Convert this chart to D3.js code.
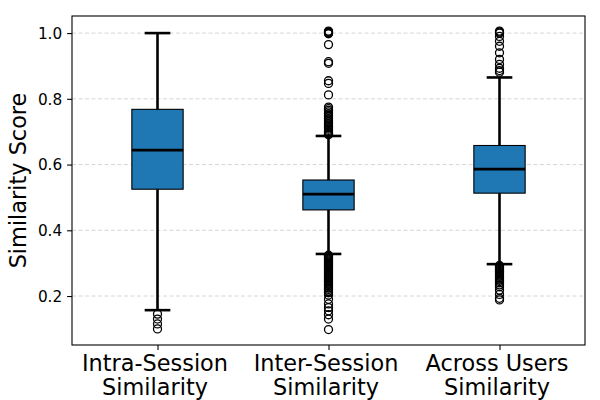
<!DOCTYPE html>
<html>
<head>
<meta charset="utf-8">
<script src="https://cdn.jsdelivr.net/npm/d3@7"></script>
<style>
  html, body { margin: 0; padding: 0; background: #fff; }
  svg { display: block; font-family: "DejaVu Sans", sans-serif; }
</style>
</head>
<body>
<svg id="chart" width="600" height="400"></svg>
<script>
// ---- data ----
const categories = ["Intra-Session\nSimilarity", "Inter-Session\nSimilarity", "Across Users\nSimilarity"];
const q1 = [0.525, 0.462, 0.513];
const median = [0.644, 0.510, 0.586];
const q3 = [0.768, 0.553, 0.658];
const whiskerLow = [0.157, 0.328, 0.297];
const whiskerHigh = [1.0, 0.687, 0.865];
const outliersIntra = [0.145, 0.13, 0.115, 0.10];
const outliersInter = [
  1.006, 1.004, 1.002, 1.0, 0.998, 0.965, 0.913, 0.908, 0.855, 0.847, 0.812,
  0.775, 0.77, 0.765, 0.76, 0.755, 0.75, 0.745, 0.74, 0.735, 0.73, 0.725, 0.72,
  0.716, 0.712, 0.708, 0.704, 0.70, 0.697, 0.694, 0.691,
  0.324, 0.321, 0.318, 0.315, 0.312, 0.309, 0.306, 0.303, 0.30, 0.297, 0.294,
  0.291, 0.288, 0.285, 0.282, 0.279, 0.276, 0.273, 0.27, 0.267, 0.264, 0.261,
  0.258, 0.255, 0.252, 0.249, 0.246, 0.243, 0.24, 0.236, 0.232, 0.228, 0.224,
  0.22, 0.215, 0.21, 0.203, 0.19, 0.176, 0.165, 0.155, 0.143, 0.13, 0.098
];
const outliersAcross = [
  1.006, 1.003, 1.0, 0.99, 0.975, 0.96, 0.94, 0.92, 0.905, 0.893, 0.886, 0.881,
  0.293, 0.29, 0.287, 0.284, 0.281, 0.278, 0.275, 0.272, 0.268, 0.264, 0.26,
  0.256, 0.252, 0.248, 0.244, 0.24, 0.234, 0.228, 0.218, 0.205, 0.193, 0.188
];
const outliers = [outliersIntra, outliersInter, outliersAcross];
const yTicks = [0.2, 0.4, 0.6, 0.8, 1.0];

// ---- layout ----
const svg = d3.select("#chart");
const L = 72, R = 585, T = 16, B = 345;

const x = d3.scalePoint().domain(categories).range([L, R]).padding(0.5);
const y = d3.scaleLinear().domain([0.051, 1.052]).range([B, T]);
const boxW = x.step() * 0.3;

// grid
svg.append("g").selectAll("line").data(yTicks).join("line")
  .attr("x1", L).attr("x2", R)
  .attr("y1", d => y(d)).attr("y2", d => y(d))
  .attr("stroke", "#cccccc").attr("stroke-width", 0.8)
  .attr("stroke-dasharray", "4,2.5");

const boxes = categories.map((c, i) => ({
  c, q1: q1[i], med: median[i], q3: q3[i], lo: whiskerLow[i], hi: whiskerHigh[i], out: outliers[i]
}));

const g = svg.append("g");
boxes.forEach(b => {
  const cx = x(b.c);
  // whiskers
  g.append("line").attr("x1", cx).attr("x2", cx).attr("y1", y(b.q1)).attr("y2", y(b.lo))
    .attr("stroke", "#000").attr("stroke-width", 2.6);
  g.append("line").attr("x1", cx).attr("x2", cx).attr("y1", y(b.q3)).attr("y2", y(b.hi))
    .attr("stroke", "#000").attr("stroke-width", 2.6);
  // caps
  [b.lo, b.hi].forEach(v => {
    g.append("line").attr("x1", cx - boxW / 4).attr("x2", cx + boxW / 4)
      .attr("y1", y(v)).attr("y2", y(v))
      .attr("stroke", "#000").attr("stroke-width", 2.6);
  });
  // box
  g.append("rect").attr("x", cx - boxW / 2).attr("width", boxW)
    .attr("y", y(b.q3)).attr("height", y(b.q1) - y(b.q3))
    .attr("fill", "#1f77b4").attr("stroke", "#000").attr("stroke-width", 1.1);
  // median
  g.append("line").attr("x1", cx - boxW / 2).attr("x2", cx + boxW / 2)
    .attr("y1", y(b.med)).attr("y2", y(b.med))
    .attr("stroke", "#000").attr("stroke-width", 2.8);
  // outliers
  g.append("g").selectAll("circle").data(b.out).join("circle")
    .attr("cx", cx).attr("cy", d => y(d)).attr("r", 4)
    .attr("fill", "none").attr("stroke", "#000").attr("stroke-width", 1.3);
});

// frame
svg.append("rect").attr("x", L).attr("y", T).attr("width", R - L).attr("height", B - T)
  .attr("fill", "none").attr("stroke", "#000").attr("stroke-width", 1.1);

// y axis
const yAxis = svg.append("g").attr("transform", `translate(${L},0)`)
  .call(d3.axisLeft(y).tickValues(yTicks).tickFormat(d3.format(".1f")).tickSize(4.9).tickPadding(4.9));
yAxis.select(".domain").remove();
yAxis.selectAll("line").attr("stroke", "#000").attr("stroke-width", 1.1);
yAxis.selectAll("text").attr("font-size", 15.3).attr("fill", "#000")
  .attr("font-family", "DejaVu Sans").attr("dy", "0.35em");

// x axis
const xAxis = svg.append("g").attr("transform", `translate(0,${B})`)
  .call(d3.axisBottom(x).tickSize(4.9).tickPadding(4.9));
xAxis.select(".domain").remove();
xAxis.selectAll("line").attr("stroke", "#000").attr("stroke-width", 1.1);
xAxis.selectAll("text").each(function(d) {
  const t = d3.select(this);
  t.text(null).attr("font-size", 22.4).attr("fill", "#000").attr("font-family", "DejaVu Sans")
    .attr("y", 0).attr("dy", null);
  d.split("\n").forEach((line, i) => {
    t.append("tspan").attr("x", -3).attr("y", i === 0 ? 26 : 49.5).text(line);
  });
});

// y label
svg.append("text")
  .attr("transform", `translate(26,${(T + B) / 2}) rotate(-90)`)
  .attr("text-anchor", "middle")
  .attr("font-size", 22.4).attr("fill", "#000")
  .text("Similarity Score");
</script>
</body>
</html>
